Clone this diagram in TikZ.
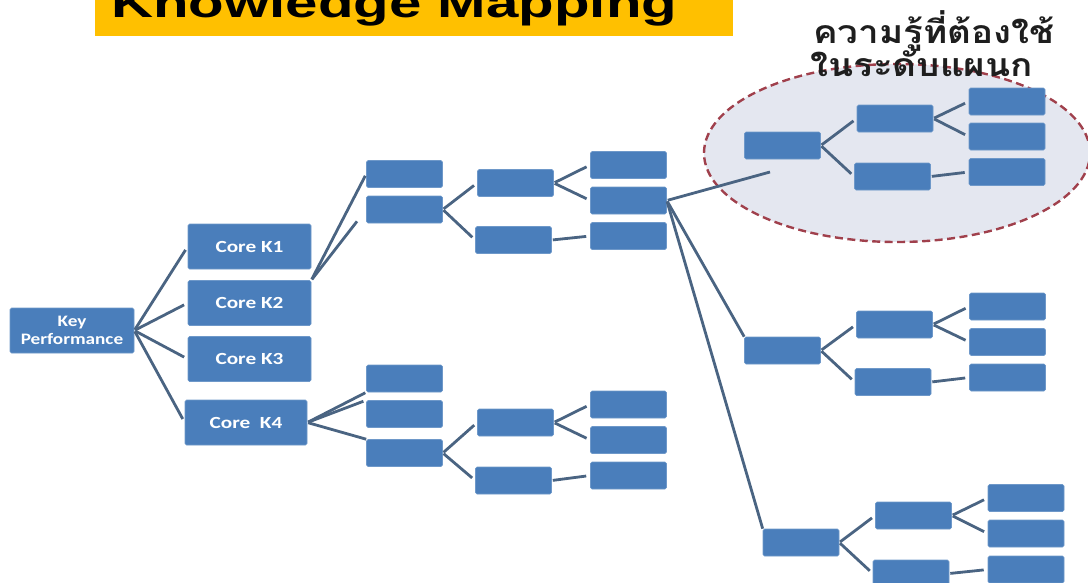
\documentclass[tikz,border=0pt]{standalone}
\usepackage{fontspec}
\setmainfont{Carlito}
\newfontfamily\titlefont{Liberation Sans}
\newfontfamily\thaifont[Script=Thai]{Loma}
\usepackage{tikz}

\definecolor{boxblue}{RGB}{74,126,187}
\definecolor{linkgray}{RGB}{74,100,130}
\definecolor{titleyellow}{RGB}{255,192,0}
\definecolor{zonefill}{RGB}{228,231,240}
\definecolor{zoneedge}{RGB}{160,64,76}
\definecolor{thaigray}{RGB}{30,30,30}

\tikzset{
  kbox/.style={rectangle, rounded corners=1.5pt, fill=boxblue, draw=boxblue!80!white,
    line width=0.6pt, minimum width=76pt, minimum height=27pt, inner sep=0pt},
  corebox/.style={kbox, minimum width=123pt, minimum height=45pt, text=white,
    font=\bfseries\fontsize{17}{18}\selectfont},
  link/.style={draw=linkgray, line width=2.8pt, shorten <=1pt, shorten >=4pt},
  titletext/.style={anchor=base west, inner sep=0pt, font=\titlefont\bfseries\fontsize{41}{42}\selectfont},
  zonetext/.style={anchor=base west, inner sep=0pt, text=thaigray, font=\thaifont\bfseries\fontsize{32}{34}\selectfont},
}

\begin{document}
\begin{tikzpicture}[x=1pt, y=-1pt]
    \useasboundingbox (0,0) rectangle (1088,582);

    \fill[titleyellow] (95,-2) rectangle (733,36);
    \node[titletext] (title) at (111,17) {\scalebox{1.42}[1]{Knowledge Mapping}};

    \fill[zonefill] (897,153) ellipse [x radius=193pt, y radius=89pt];
    \draw[zoneedge, line width=2.4pt, dash pattern=on 8pt off 4.5pt] (897,153) ellipse [x radius=193pt, y radius=89pt];

    \node[corebox, minimum width=124pt, align=center, font=\bfseries\fontsize{16}{18}\selectfont] at (72,330.5) (KeyP)
      {\scalebox{1.2}[1]{Key}\\\scalebox{1.2}[1]{Performance}};
    \node[corebox] at (249.5,246.5) (CK1) {\scalebox{1.25}[1]{Core K1}};
    \node[corebox] at (249.5,303) (CK2) {\scalebox{1.25}[1]{Core K2}};
    \node[corebox] at (249.5,359) (CK3) {\scalebox{1.25}[1]{Core K3}};
    \node[corebox, minimum width=122pt] at (246,422.5) (CK4) {\scalebox{1.25}[1]{Core\ \ K4}};

    \node[kbox] at (404.5,174) (U2a) {};
    \node[kbox] at (404.5,209.5) (U2b) {};
    \node[kbox] at (515.5,183) (U3a) {};
    \node[kbox] at (513.5,240) (U3b) {};
    \node[kbox] at (628.5,165) (U4a) {};
    \node[kbox] at (628.5,200.5) (U4b) {};
    \node[kbox] at (628.5,236) (U4c) {};

    \node[kbox] at (404.5,378.5) (L2a) {};
    \node[kbox] at (404.5,414) (L2b) {};
    \node[kbox] at (404.5,453) (L2c) {};
    \node[kbox] at (515.5,422.5) (L3a) {};
    \node[kbox] at (513.5,480.5) (L3b) {};
    \node[kbox] at (628.5,404.5) (L4a) {};
    \node[kbox] at (628.5,440) (L4b) {};
    \node[kbox] at (628.5,475.5) (L4c) {};

    \node[kbox] at (782.5,145.5) (Z1) {};
    \node[kbox] at (895,118.5) (Z2a) {};
    \node[kbox] at (892.5,176.5) (Z2b) {};
    \node[kbox] at (1007,101.5) (Z3a) {};
    \node[kbox] at (1007,136.5) (Z3b) {};
    \node[kbox] at (1007,172) (Z3c) {};
    \coordinate (Zin) at (770,172);

    \node[kbox] at (782.5,350.5) (M1) {};
    \node[kbox] at (894.5,324.5) (M2a) {};
    \node[kbox] at (893,382) (M2b) {};
    \node[kbox] at (1007.5,306.5) (M3a) {};
    \node[kbox] at (1007.5,342) (M3b) {};
    \node[kbox] at (1007.5,377.5) (M3c) {};

    \node[kbox] at (801,542.5) (B1) {};
    \node[kbox] at (913.5,515.5) (B2a) {};
    \node[kbox] at (911,573.5) (B2b) {};
    \node[kbox] at (1026,498) (B3a) {};
    \node[kbox] at (1026,533.5) (B3b) {};
    \node[kbox] at (1026,569.5) (B3c) {};

    \draw[link] (KeyP.east) -- (CK1.west);
    \draw[link] (KeyP.east) -- (CK2.west);
    \draw[link] (KeyP.east) -- (CK3.west);
    \draw[link] (KeyP.east) -- (CK4.west);

    \draw[link, shorten >=2pt] (CK2.north east) -- (U2a.west);
    \draw[link, shorten >=15pt] (CK2.north east) -- (U2b.west);
    \draw[link] (U2b.east) -- (U3a.west);
    \draw[link] (U2b.east) -- (U3b.west);
    \draw[link] (U3a.east) -- (U4a.west);
    \draw[link] (U3a.east) -- (U4b.west);
    \draw[link] (U3b.east) -- (U4c.west);

    \draw[link, shorten >=1pt] (CK4.east) -- (L2a.south west);
    \draw[link, shorten >=3pt] (CK4.east) -- (L2b.north west);
    \draw[link, shorten >=0pt] (CK4.east) -- (L2c.north west);
    \draw[link] (L2c.east) -- (L3a.west);
    \draw[link] (L2c.east) -- (L3b.west);
    \draw[link] (L3a.east) -- (L4a.west);
    \draw[link] (L3a.east) -- (L4b.west);
    \draw[link] (L3b.east) -- (L4c.west);

    \draw[link, shorten >=0pt] (U4b.east) -- (Zin);
    \draw[link, shorten >=0pt] (U4b.east) -- (M1.north west);
    \draw[link, shorten >=0pt] (U4b.east) -- (B1.north west);

    \draw[link] (Z1.east) -- (Z2a.west);
    \draw[link] (Z1.east) -- (Z2b.west);
    \draw[link] (Z2a.east) -- (Z3a.west);
    \draw[link] (Z2a.east) -- (Z3b.west);
    \draw[link] (Z2b.east) -- (Z3c.west);

    \draw[link] (M1.east) -- (M2a.west);
    \draw[link] (M1.east) -- (M2b.west);
    \draw[link] (M2a.east) -- (M3a.west);
    \draw[link] (M2a.east) -- (M3b.west);
    \draw[link] (M2b.east) -- (M3c.west);

    \draw[link] (B1.east) -- (B2a.west);
    \draw[link] (B1.east) -- (B2b.west);
    \draw[link] (B2a.east) -- (B3a.west);
    \draw[link] (B2a.east) -- (B3b.west);
    \draw[link] (B2b.east) -- (B3c.west);

    \node[zonetext] (zoneA) at (813,43) {\scalebox{1.15}[1]{ความรู้ที่ต้องใช้}};
    \node[zonetext] (zoneB) at (810,76) {\scalebox{1.15}[1]{ในระดับแผนก}};
\end{tikzpicture}
\end{document}
